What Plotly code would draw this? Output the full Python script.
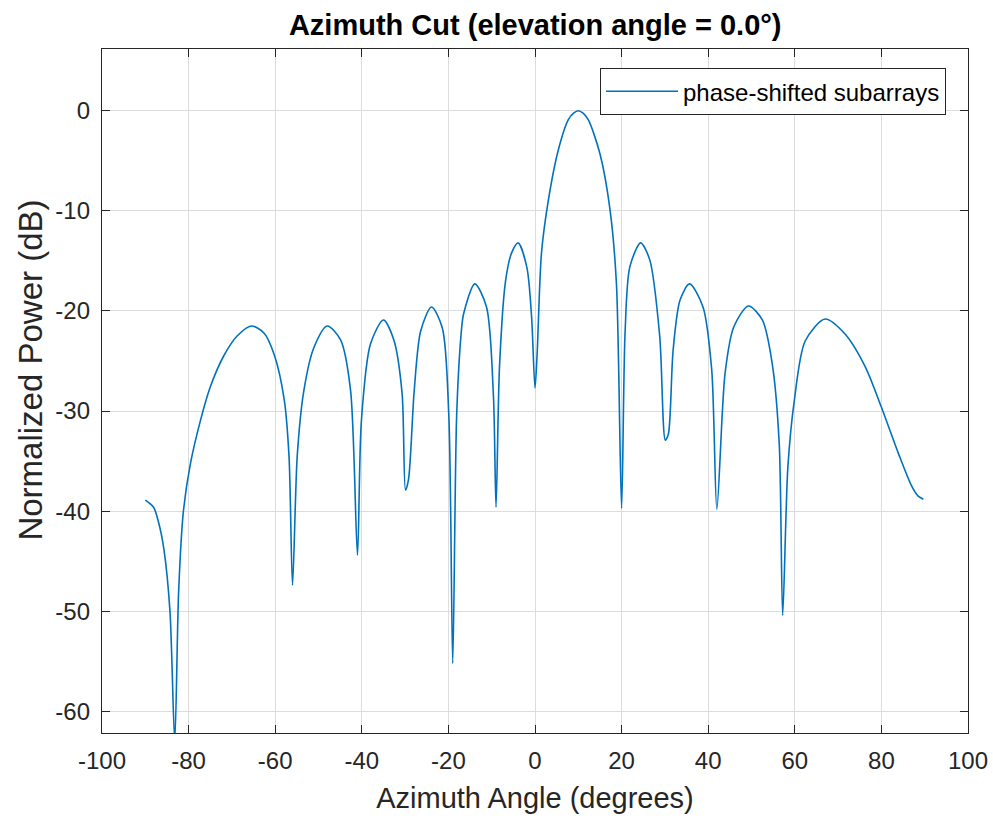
import plotly.graph_objects as go

# Azimuth angle (degrees) and normalized power (dB)
azimuth_deg = [
    -90.0, -88.1, -87.0, -85.7, -84.3, -83.2, -82.3, -81.2, -79.6, -77.3, -75.0,
    -71.9, -68.8, -65.5, -62.6, -60.2, -57.9, -56.8, -56.0, -54.9, -53.4,
    -51.1, -48.0, -44.9, -42.6, -41.0, -40.1, -38.0, -35.0, -32.6, -30.7,
    -29.9, -29.2, -27.9, -26.4, -23.9, -21.4, -19.9, -19.0, -18.1, -17.1,
    -16.5, -13.9, -11.2, -9.6, -9.0, -8.2, -6.8, -5.4, -3.9, -1.9,
    -0.8, 0.0, 0.5, 1.5, 3.1, 5.4, 7.7, 8.9, 10.0, 11.1, 12.3, 15.0,
    17.3, 18.8, 20.0, 20.8, 21.9, 24.4, 26.5, 28.8, 30.1, 30.8,
    31.9, 33.5, 35.7, 38.8, 40.8, 42.0, 43.9, 45.9, 49.3, 52.5,
    54.8, 56.4, 57.2, 58.4, 59.9, 62.4, 67.0, 71.6, 76.3, 79.9,
    83.9, 87.0, 88.5, 89.7,
]
power_db = [
    -38.9, -39.6, -41.0, -43.8, -50.0, -63.0, -48.0, -40.0, -35.3, -31.0, -27.6,
    -24.5, -22.5, -21.5, -22.2, -24.4, -28.9, -34.6, -47.4, -34.4, -28.0,
    -23.7, -21.5, -22.9, -27.9, -44.4, -31.0, -23.3, -20.9, -22.9, -28.2,
    -37.9, -36.8, -28.0, -22.0, -19.6, -21.7, -30.5, -55.2, -30.5, -22.5,
    -20.3, -17.3, -19.6, -28.5, -39.6, -25.6, -17.0, -14.2, -13.2, -15.6,
    -20.5, -27.7, -24.2, -14.2, -8.9, -3.9, -0.9, -0.25, 0.0, -0.25, -0.9, -4.3,
    -9.8, -17.2, -39.7, -22.2, -15.6, -13.2, -14.9, -22.5, -32.9, -32.3,
    -23.9, -18.9, -17.3, -19.6, -25.8, -39.8, -26.2, -21.6, -19.5, -20.9,
    -25.3, -33.2, -50.4, -35.6, -28.9, -23.0, -20.8, -22.3, -25.6, -29.5,
    -34.2, -37.5, -38.5, -38.8,
]

x_ticks = [-100, -80, -60, -40, -20, 0, 20, 40, 60, 80, 100]
y_ticks = [-60, -50, -40, -30, -20, -10, 0]

title_text = "Azimuth Cut (elevation angle = 0.0°)"
x_label = "Azimuth Angle (degrees)"
y_label = "Normalized Power (dB)"
series_name = "phase-shifted subarrays"

FONT = "Liberation Sans, Arial, Helvetica, sans-serif"
AXC = "#262626"

fig = go.Figure()
fig.add_trace(go.Scatter(
    x=azimuth_deg, y=power_db, mode="lines", name=series_name,
    line=dict(color="#0072BD", width=1.6, shape="spline", smoothing=0.8),
))

axis_common = dict(
    showline=True, linecolor=AXC, linewidth=1.3, mirror="ticks",
    ticks="inside", ticklen=8, tickwidth=1, tickcolor=AXC,
    showgrid=True, gridcolor="#dcdcdc", gridwidth=1,
    zeroline=False, tickfont=dict(family=FONT, size=24, color=AXC),
    automargin=False, ticklabelstandoff=6,
)

fig.update_xaxes(
    range=[-100, 100], tickvals=x_ticks, ticktext=[str(v) for v in x_ticks],
    title=dict(text=x_label, font=dict(family=FONT, size=29, color=AXC), standoff=14),
    **axis_common,
)
fig.update_yaxes(
    range=[-62.15, 6.16], tickvals=y_ticks, ticktext=[str(v) for v in y_ticks],
    **axis_common,
)

fig.update_layout(
    width=993, height=818,
    margin=dict(l=102, r=25, t=49, b=85, pad=0),
    paper_bgcolor="white", plot_bgcolor="white",
    title=dict(text="<b>" + title_text + "</b>", x=0.539, xanchor="center",
               y=0.970, yanchor="middle",
               font=dict(family=FONT, size=29, color="#000000")),
    showlegend=True,
    legend=dict(x=0.9746, y=0.972, xanchor="right", yanchor="top",
                bgcolor="white", bordercolor=AXC, borderwidth=1,
                font=dict(family=FONT, size=24, color="#000000"),
                itemwidth=72, tracegroupgap=0),
    annotations=[dict(
        text=y_label, textangle=-90, xref="paper", yref="paper",
        x=-0.083, y=0.53, xanchor="center", yanchor="middle", showarrow=False,
        font=dict(family=FONT, size=33, color=AXC),
    )],
)

fig.write_html(
    "out.html",
    config={"displayModeBar": False},
    post_script=(
        "document.documentElement.style.margin='0';"
        "document.body.style.margin='0';"
        "document.documentElement.style.overflow='hidden';"
        "document.body.style.overflow='hidden';"
    ),
)
